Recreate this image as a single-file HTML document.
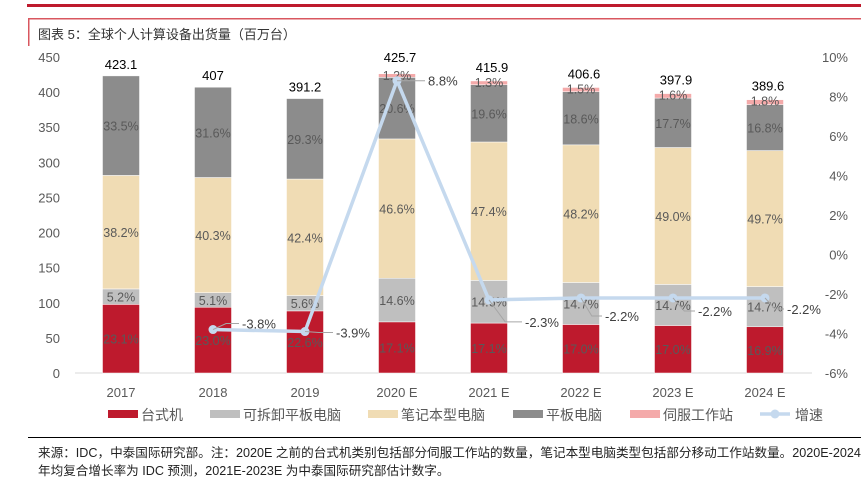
<!DOCTYPE html>
<html><head><meta charset="utf-8"><style>
body{margin:0;width:861px;height:477px;overflow:hidden;background:#fff;font-family:"Liberation Sans","Noto Sans CJK SC",sans-serif;}
</style></head><body>
<svg id="c" width="861" height="477" xmlns="http://www.w3.org/2000/svg">
<rect x="27" y="4" width="834" height="3" fill="#BE1A2D"/>
<rect x="28" y="18" width="833" height="1.5" fill="#D9575F"/>
<rect x="28" y="18" width="1.5" height="28" fill="#D9575F"/>
<text x="38" y="39" font-size="13" fill="#333">图表 5：全球个人计算设备出货量（百万台）</text>
<g id="axes"></g><g id="bars"></g><g id="line"></g>
<g id="legend" font-size="14" fill="#595959"></g>
<rect x="28" y="437" width="833" height="1" fill="#000"/>
<text x="38" y="457" font-size="12.6" fill="#222">来源：IDC，中泰国际研究部。注：2020E 之前的台式机类别包括部分伺服工作站的数量，笔记本型电脑类型包括部分移动工作站数量。2020E-2024E</text>
<text x="38" y="475" font-size="12.6" fill="#222">年均复合增长率为 IDC 预测，2021E-2023E 为中泰国际研究部估计数字。</text>
</svg>
<script>
const categories=["2017","2018","2019","2020 E","2021 E","2022 E","2023 E","2024 E"];
const totals=[423.1,407,391.2,425.7,415.9,406.6,397.9,389.6];
const desktopPct=[23.1,23.0,22.6,17.1,17.1,17.0,17.0,16.9];
const detachablePct=[5.2,5.1,5.6,14.6,14.6,14.7,14.7,14.7];
const notebookPct=[38.2,40.3,42.4,46.6,47.4,48.2,49.0,49.7];
const tabletPct=[33.5,31.6,29.3,20.6,19.6,18.6,17.7,16.8];
const serverPct=[0,0,0,1.2,1.3,1.5,1.6,1.8];
const growth=[null,-3.8,-3.9,8.8,-2.3,-2.2,-2.2,-2.2];
const leftTicks=[0,50,100,150,200,250,300,350,400,450];
const rightTicks=[-6,-4,-2,0,2,4,6,8,10];
const NS="http://www.w3.org/2000/svg";
const y=v=>373-v*(316/450);
const yr=p=>373-(p+6)*(316/16);
const xc=i=>121+i*92;
const bw=37;
function mk(t,a,p,txt){const e=document.createElementNS(NS,t);for(const k in a)e.setAttribute(k,a[k]);if(txt!==undefined)e.textContent=txt;p.appendChild(e);return e;}
const ax=document.getElementById('axes');
const base=mk('line',{x1:75,x2:812,y1:373,y2:373,stroke:'#D9D9D9'},ax);


leftTicks.forEach(v=>{const t=mk('text',{x:60,y:y(v)+5,'font-size':13,fill:'#595959','text-anchor':'end'},ax,String(v));

});
rightTicks.forEach(v=>{const t=mk('text',{x:848,y:yr(v)+5,'font-size':13,fill:'#595959','text-anchor':'end'},ax,v+'%');

});
categories.forEach((c,i)=>{const t=mk('text',{x:xc(i),y:397,'font-size':13,fill:'#595959','text-anchor':'middle'},ax,c);

});
const series=[[desktopPct,'#BE1A2D','desktop'],[detachablePct,'#BFBFBF','detachable'],[notebookPct,'#F0DCB4','notebook'],[tabletPct,'#8C8C8C','tablet'],[serverPct,'#F4AAAA','server']];
const bg=document.getElementById('bars');
categories.forEach((c,i)=>{let cum=0;
series.forEach(([arr,col,nm])=>{const v=totals[i]*arr[i]/100;if(v<=0)return;
const r=mk('rect',{x:xc(i)-bw/2,y:y(cum+v),width:bw,height:y(cum)-y(cum+v),fill:col,stroke:'#fff','stroke-width':0.5},bg);


const ly=nm==='server'?y(cum+v)+6:(y(cum)+y(cum+v))/2+5;
const t=mk('text',{x:xc(i),y:ly,'font-size':12.5,fill:'#595959','text-anchor':'middle'},bg,arr[i].toFixed(1)+'%');


cum+=v;});
const tt=mk('text',{x:xc(i)+(i<3?0:3),y:y(totals[i])-(i<3?7:(i==3?12:9)),'font-size':13,fill:'#000','text-anchor':'middle'},bg,String(totals[i]));

});
const lg=document.getElementById('line');
let pts=[];growth.forEach((g,i)=>{if(g!==null)pts.push([xc(i),yr(g)]);});
const pl=mk('polyline',{points:pts.map(p=>p.join(',')).join(' '),fill:'none',stroke:'#C5D9EE','stroke-width':3.5},lg);


const offs=[null,[29,-6],[31,1],[31,0],[36,22],[24,18],[25,13],[22,11]];
growth.forEach((g,i)=>{if(g===null)return;const px=xc(i),py=yr(g);
const cc=mk('circle',{cx:px,cy:py,r:4.5,fill:'#C5D9EE'},lg);


const [dx,dy]=offs[i];
mk('polyline',{points:`${px},${py} ${px+dx*0.45},${py+dy} ${px+dx-3},${py+dy}`,fill:'none',stroke:'#A6A6A6','stroke-width':1},lg);
const t=mk('text',{x:px+dx,y:py+dy+5,'font-size':13,fill:'#404040'},lg,g.toFixed(1)+'%');

});
const leg=document.getElementById('legend');
const items=[['台式机','#BE1A2D',108],['可拆卸平板电脑','#BFBFBF',210],['笔记本型电脑','#F0DCB4',368],['平板电脑','#8C8C8C',513],['伺服工作站','#F4AAAA',630]];
items.forEach(([n,c,x])=>{const g=mk('g',{},leg);


mk('rect',{x:x,y:410,width:30,height:8,fill:c},g);mk('text',{x:x+33,y:420},g,n);});
const lgl=mk('g',{},leg);


mk('line',{x1:760,x2:790,y1:414,y2:414,stroke:'#C5D9EE','stroke-width':3.5},lgl);
mk('circle',{cx:775,cy:414,r:4.5,fill:'#C5D9EE'},lgl);
mk('text',{x:795,y:420},lgl,'增速');
</script>
</body></html>
